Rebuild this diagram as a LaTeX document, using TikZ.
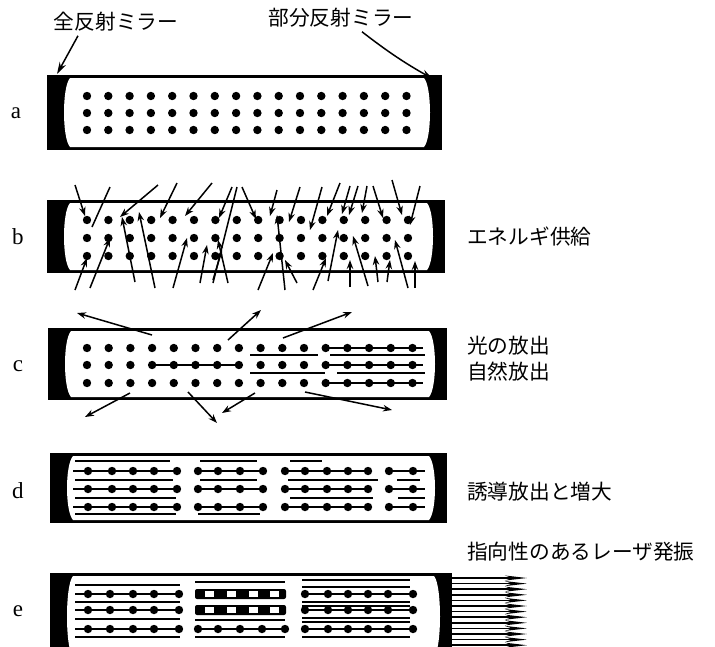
\documentclass[tikz,border=0pt]{standalone}
\usepackage{fontspec}
\newfontfamily\jpfont{Noto Sans CJK JP}
\newfontfamily\tagfont{Liberation Serif}
\usetikzlibrary{arrows.meta}

\tikzset{
  ray/.style={line width=1.5pt,-{Stealth[length=9pt,width=6.5pt]}},
  pointer/.style={line width=1.5pt,-{Stealth[length=12pt,width=7pt]}},
  beam/.style={line width=1.7pt,-{Stealth[length=22pt,width=5pt]}},
  bond/.style={line width=1.7pt},
  jplabel/.style={font=\jpfont\fontsize{20.7}{25}\selectfont,inner sep=0pt},
  rowlabel/.style={font=\tagfont\fontsize{23}{26}\selectfont,inner sep=0pt},
}

% tube with mirrors: left, right, top, bottom
\newcommand\lasertube[4]{%
  \fill (#1,#3) rectangle (#2,#4);
  \fill[white] ({#1+23},{#3+3}) .. controls ({#1+15},{#3+12}) and ({#1+15},{#4-12}) .. ({#1+23},{#4-3})
    -- ({#2-18},{#4-3}) .. controls ({#2-10},{#4-12}) and ({#2-10},{#3+12}) .. ({#2-18},{#3+3}) -- cycle;
}

\begin{document}
\begin{tikzpicture}[x=1pt,y=-1pt]
  \clip (0,0) rectangle (715,646);
  \fill[white] (0,0) rectangle (715,646);

  % mirror labels
  \node[jplabel] (fullmirror) at (116,22) {全反射ミラー};
  \node[jplabel] (partmirror) at (341,18) {部分反射ミラー};
  \coordinate (fulltip) at (57,74);
  \coordinate (parttip) at (433,79);
  \draw[pointer] ([xshift=-38pt,yshift=-4pt]fullmirror.south) -- (fulltip);
  \draw[pointer] ([xshift=21pt,yshift=-4pt]partmirror.south) to[bend right=4] (parttip);

  % a: atoms at rest
  \lasertube{47}{442}{75}{150}
  \node[rowlabel] (lbla) at (16,113) {a};
  \foreach \i in {0,...,15}
    \foreach \y in {96,113,130}
      \fill ({87+21.3*\i},\y) circle[radius=4.2pt];

  % b: pumping
  \lasertube{47}{445}{200}{273}
  \node[rowlabel] (lblb) at (18,237) {b};
  \node[jplabel,anchor=west] (pump) at (467,237) {エネルギ供給};
  \foreach \i in {0,...,15}
    \foreach \y in {220,238,256}
      \fill ({87+21.4*\i},\y) circle[radius=4.2pt];
  \foreach \a/\b/\c/\d in {
      75/185/85/216, 158/185/120/217, 177/183/160/218, 212/183/185/216,
      232/187/219/218, 242/187/256/219, 277/190/270/216, 300/187/289/222,
      322/187/310/230, 340/183/327/216, 350/186/342/214, 358/186/349/215,
      367/186/362/213, 373/186/383/218, 392/180/402/215, 420/186/410/225,
      75/290/87/258, 90/288/110/238, 135/282/122/217, 155/288/139/212,
      173/288/187/238, 200/283/207/245, 213/280/222/250, 228/283/218/240,
      258/290/273/253, 285/290/277/215, 297/283/285/260, 313/290/326/258,
      328/281/338/230, 350/287/350/260, 368/286/353/236, 378/282/375/256,
      387/282/390/260, 408/288/395/240, 415/288/415/261}
    \draw[ray] (\a,\b) -- (\c,\d);
  \draw[line width=1.5pt] (110,187) -- (92,227);
  \draw[line width=1.5pt] (237,187) -- (213,283);

  % c: spontaneous emission
  \lasertube{48}{447}{328}{400}
  \node[rowlabel] (lblc) at (18,366) {c};
  \node[jplabel,anchor=west] (emit) at (467,346) {光の放出};
  \node[jplabel,anchor=west] (spont) at (467,372) {自然放出};
  \draw[bond] (152,365) -- (238,365);
  \foreach \y in {348,365,383} \draw[bond] (325,\y) -- (423,\y);
  \draw[bond] (250,355) -- (318,355) (330,355) -- (425,355);
  \draw[bond] (250,373) -- (325,373) (337,373) -- (425,373);
  \foreach \i in {0,...,15}
    \foreach \y in {348,365,383}
      \fill ({87+21.7*\i},\y) circle[radius=4.2pt];
  \foreach \a/\b/\c/\d in {
      152/335/77/313, 228/340/261/310, 283/338/352/312,
      130/393/85/417, 188/392/217/423, 255/393/222/413, 305/392/392/410}
    \draw[ray] (\a,\b) -- (\c,\d);

  % d: stimulated emission
  \lasertube{50}{447}{453}{523}
  \node[rowlabel] (lbld) at (18,491) {d};
  \node[jplabel,anchor=west] (gain) at (467,492) {誘導放出と増大};
  \foreach \y in {471,489,507} {
    \draw[bond] (73,\y) -- (177,\y) (198,\y) -- (263,\y)
      (283,\y) -- (368,\y) (389,\y) -- (425,\y);
    \foreach \x in {88,112,133,154,177,198,218,240,263,285,305,327,348,368,389,413}
      \fill (\x,\y) circle[radius=4.2pt];
  }
  \draw[bond] (75,461) -- (170,461) (200,461) -- (257,461) (290,461) -- (322,461);
  \draw[bond] (75,480) -- (173,480) (200,480) -- (257,480) (288,480) -- (378,480) (397,480) -- (420,480);
  \draw[bond] (75,498) -- (176,498) (290,498) -- (373,498) (398,498) -- (425,498);
  \draw[bond] (75,514) -- (176,514) (198,514) -- (260,514);

  % e: laser oscillation
  \lasertube{50}{452}{573}{660}
  \node[rowlabel] (lble) at (18,611) {e};
  \node[jplabel,anchor=west] (osc) at (467,552) {指向性のあるレーザ発振};
  \foreach \y in {594,610,629} {
    \draw[bond] (75,\y) -- (179,\y) (302,\y) -- (413,\y);
    \foreach \x in {88,110,133,154,179,305,328,348,368,388,413}
      \fill (\x,\y) circle[radius=4.2pt];
  }
  \foreach \y in {585,602,619,637} \draw[bond] (75,\y) -- (180,\y);
  % middle block: two bars with windows, one row of atoms
  \foreach \y in {594,610} {
    \fill[rounded corners=2pt] (195,{\y-5}) rectangle (286,{\y+5});
    \foreach \x in {205,227,249,270} \fill[white] (\x,{\y-3}) rectangle ({\x+9},{\y+3});
  }
  \draw[bond] (198,629) -- (285,629);
  \foreach \x in {198,218,240,262,285} \fill (\x,629) circle[radius=4.2pt];
  \foreach \y in {582,620,637} \draw[bond] (195,\y) -- (285,\y);
  \foreach \y in {580,587,602,606,618,622,637} \draw[bond] (302,\y) -- (410,\y);
  % output beam
  \foreach \i in {0,...,12}
    \draw[beam] (450,{578+5.6*\i}) -- (527,{578+5.6*\i});
\end{tikzpicture}
\end{document}
